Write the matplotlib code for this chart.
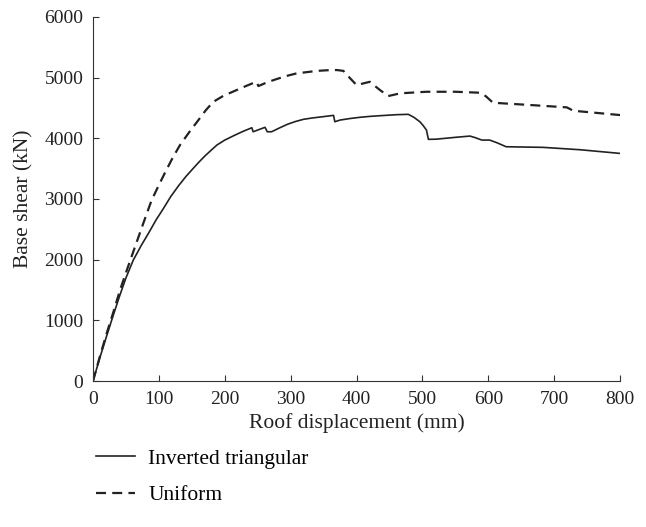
import matplotlib.pyplot as plt

plt.rcParams['font.family'] = ['Liberation Serif', 'DejaVu Serif']

# Inverted triangular load pattern
tri_x = [0, 10, 20, 30, 40, 50, 61, 73, 85, 96, 107, 118, 130, 141, 152, 161, 170, 179,
         188, 200, 215, 228, 241, 243, 261, 264.5, 271, 283, 295, 307, 319, 332, 345,
         365, 367, 375, 390, 405, 420, 435, 460, 478.5, 487, 496, 501, 506, 509, 521,
         550, 572, 580, 590, 602, 613, 627, 683, 740, 800]
tri_y = [0, 370, 720, 1060, 1390, 1700, 1990, 2230, 2450, 2660, 2845, 3040, 3220, 3370,
         3503, 3610, 3710, 3800, 3888, 3970, 4050, 4115, 4173, 4107, 4180, 4107, 4107,
         4170, 4230, 4275, 4311, 4333, 4350, 4377, 4272, 4300, 4325, 4345, 4360, 4371,
         4388, 4394, 4345, 4272, 4210, 4135, 3982, 3985, 4015, 4036, 4010, 3970, 3970,
         3926, 3860, 3850, 3810, 3750]

# Uniform load pattern
uni_x = [0, 10, 20, 31, 41, 53, 65, 77, 89, 100, 110, 121, 132, 146, 160, 171, 182.6,
         198, 215, 232, 248, 251, 265, 280, 295, 309, 325, 340, 355, 370, 380, 390, 400,
         420, 435.5, 448, 466, 506, 550, 587, 592, 597, 607, 660, 719, 729, 800]
uni_y = [0, 390, 760, 1140, 1500, 1880, 2250, 2620, 2982, 3230, 3450, 3680, 3888, 4100,
         4300, 4460, 4601, 4700, 4780, 4860, 4931, 4860, 4925, 4980, 5030, 5069, 5090,
         5110, 5120, 5124, 5110, 4990, 4876, 4930, 4794, 4695, 4740, 4766, 4766, 4750,
         4725, 4684, 4585, 4550, 4509, 4453, 4382]

fig = plt.figure(figsize=(6.46, 5.27), dpi=100)
ax = fig.add_axes([0.144, 0.277, 0.816, 0.691])

ax.plot(tri_x, tri_y, color='#222222', lw=1.2, label='Inverted triangular')
ax.plot(uni_x, uni_y, color='#222222', lw=1.6, ls=(0, (4.5, 2.8)), label='Uniform')

ax.set_xlim(0, 800)
ax.set_ylim(0, 6000)
ax.set_xticks(range(0, 801, 100))
ax.set_yticks(range(0, 6001, 1000))
ax.spines['top'].set_visible(False)
ax.spines['right'].set_visible(False)
for s in ('left', 'bottom'):
    ax.spines[s].set_color('#333333')
ax.tick_params(direction='in', labelsize=14, length=4, pad=7, colors='#333333',
               labelcolor='#222222')
ax.set_xlabel('Roof displacement (mm)', fontsize=15.5, color='#222222', labelpad=4)
ax.set_ylabel('Base shear (kN)', fontsize=15.5, color='#222222', labelpad=8)

fig.legend(loc='upper left', bbox_to_anchor=(0.118, 0.185), frameon=False,
           fontsize=15.5, handlelength=1.85, labelspacing=0.75, handletextpad=0.6)

fig.savefig('out.png', dpi=100)
